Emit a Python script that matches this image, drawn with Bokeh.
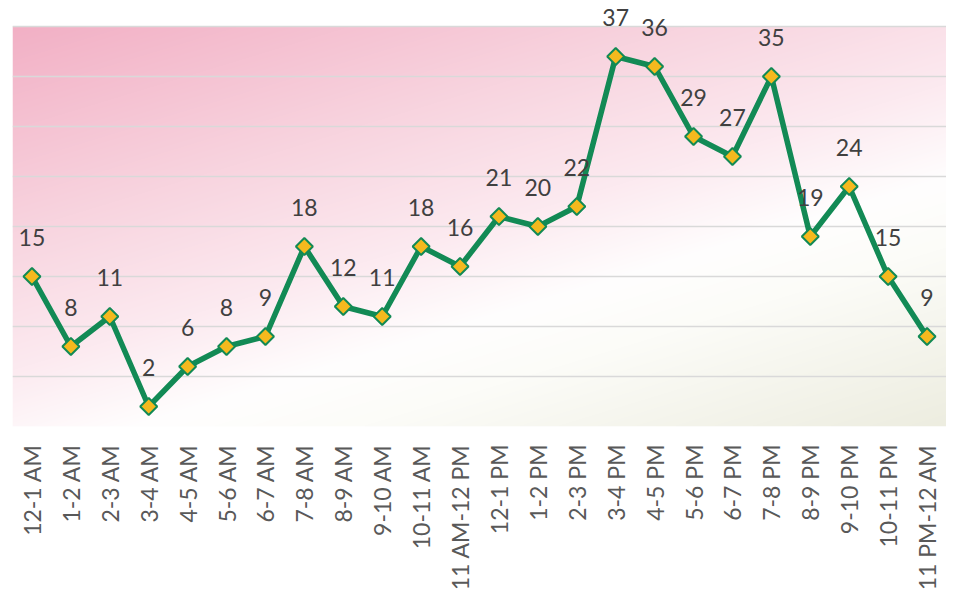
import numpy as np
from bokeh.plotting import figure
from bokeh.models import FactorRange, Range1d, FixedTicker, ColumnDataSource, LabelSet
from bokeh.core.properties import value
from bokeh.embed import file_html
from bokeh.resources import INLINE

hours = ["12-1 AM", "1-2 AM", "2-3 AM", "3-4 AM", "4-5 AM", "5-6 AM", "6-7 AM",
         "7-8 AM", "8-9 AM", "9-10 AM", "10-11 AM", "11 AM-12 PM", "12-1 PM",
         "1-2 PM", "2-3 PM", "3-4 PM", "4-5 PM", "5-6 PM", "6-7 PM", "7-8 PM",
         "8-9 PM", "9-10 PM", "10-11 PM", "11 PM-12 AM"]
counts = [15, 8, 11, 2, 6, 8, 9, 18, 12, 11, 18, 16, 21, 20, 22, 37, 36, 29,
          27, 35, 19, 24, 15, 9]
grid_ticks = [0, 5, 10, 15, 20, 25, 30, 35, 40]

YMAX_PLOT = 40
YMAX_VIEW = 42.6          # extra room above the plot area for the value labels
FW, FH = 934, 426
FONT = "Lato"

p = figure(x_range=FactorRange(factors=hours, range_padding=0),
           y_range=Range1d(0, YMAX_VIEW),
           frame_width=FW, frame_height=FH,
           output_backend="svg", toolbar_location=None,
           y_axis_location=None,
           min_border_left=12, min_border_right=0, min_border_top=0,
           min_border_bottom=0)
p.outline_line_color = None
p.background_fill_color = "white"
p.border_fill_color = "white"

# gradient background (style only), covering the 0..40 plot area
H, W = 398, FW
yy, xx = np.mgrid[0:H, 0:W]
u = (xx + 0.5) / W
v = 1.0 - (yy + 0.5) / H  # row 0 is bottom in bokeh images
t = (u + 1.4 * v) / 2.4
stops_t = [0.0, 0.3, 0.5, 0.64, 0.74, 1.0]
stops_c = [(242, 176, 197), (248, 212, 223), (252, 234, 240),
           (255, 254, 254), (252, 252, 248), (237, 237, 224)]
r = np.interp(t, stops_t, [c[0] for c in stops_c])
g = np.interp(t, stops_t, [c[1] for c in stops_c])
b = np.interp(t, stops_t, [c[2] for c in stops_c])
img = np.empty((H, W), dtype=np.uint32)
view = img.view(dtype=np.uint8).reshape((H, W, 4))
view[:, :, 0] = r.astype(np.uint8)
view[:, :, 1] = g.astype(np.uint8)
view[:, :, 2] = b.astype(np.uint8)
view[:, :, 3] = 255
p.image_rgba(image=[img], x=0, y=0, dw=len(hours), dh=YMAX_PLOT, level="image")

p.xgrid.grid_line_color = None
p.ygrid.ticker = FixedTicker(ticks=grid_ticks)
p.ygrid.grid_line_color = "#D9D9D9"
p.ygrid.grid_line_width = 1.5

src = ColumnDataSource(dict(x=hours, y=counts, lbl=[str(c) for c in counts]))
p.line(x="x", y="y", source=src, line_color="#128A55", line_width=5.5,
       line_join="round")
p.scatter(x="x", y="y", source=src, marker="square", angle=np.pi / 4, size=12,
          fill_color="#F5B91E", line_color="#128A55", line_width=2)

labels = LabelSet(x="x", y="y", text="lbl", source=src, y_offset=39,
                  text_align="center", text_baseline="middle",
                  text_font=value(FONT), text_font_size="23px",
                  text_color="#404040")
p.add_layout(labels)

ax = p.xaxis[0]
ax.axis_line_color = None
ax.major_tick_line_color = None
ax.minor_tick_line_color = None
ax.major_tick_out = 0
ax.major_tick_in = 0
ax.major_label_standoff = 18
ax.major_label_orientation = np.pi / 2
ax.major_label_text_font = FONT
ax.major_label_text_font_size = "23px"
ax.major_label_text_color = "#595959"

open("out.html", "w").write(file_html(p, INLINE))
